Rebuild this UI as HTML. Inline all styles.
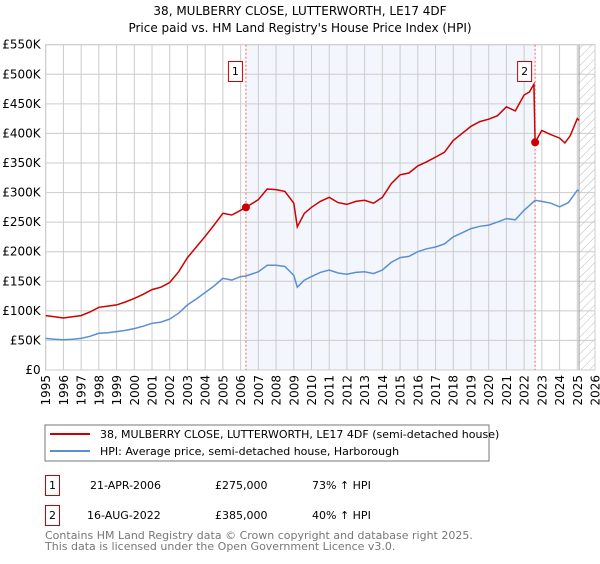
<!DOCTYPE html>
<html><head><meta charset="utf-8"><style>
body{margin:0;background:#fff;font-family:"DejaVu Sans","Liberation Sans",sans-serif;}
svg text{font-family:"DejaVu Sans","Liberation Sans",sans-serif;}
</style></head><body>
<svg id="chart" width="600" height="560" xmlns="http://www.w3.org/2000/svg">
<defs><pattern id="hatch" width="6" height="6" patternUnits="userSpaceOnUse" patternTransform="rotate(45)"><line x1="0" y1="0" x2="0" y2="6" stroke="#bbb" stroke-width="1"/></pattern></defs>
<text x="300" y="15" text-anchor="middle" font-size="12">38, MULBERRY CLOSE, LUTTERWORTH, LE17 4DF</text>
<text x="300" y="32" text-anchor="middle" font-size="12">Price paid vs. HM Land Registry's House Price Index (HPI)</text>
<g id="plot"></g>
<rect x="45" y="425" width="444" height="36" fill="#fff" stroke="#777"/>
<line x1="50" y1="434" x2="90" y2="434" stroke="#cc0000" stroke-width="2"/>
<text x="100" y="438" font-size="11">38, MULBERRY CLOSE, LUTTERWORTH, LE17 4DF (semi-detached house)</text>
<line x1="50" y1="451" x2="90" y2="451" stroke="#5b8fd4" stroke-width="2"/>
<text x="100" y="455" font-size="11">HPI: Average price, semi-detached house, Harborough</text>
<rect x="45.5" y="475.5" width="14" height="20" fill="none" stroke="#cc0000"/>
<text x="52.5" y="489" font-size="11" text-anchor="middle">1</text>
<text x="90" y="489" font-size="11">21-APR-2006</text>
<text x="215" y="489" font-size="11">£275,000</text>
<text x="312" y="489" font-size="11">73% ↑ HPI</text>
<rect x="45.5" y="505.5" width="14" height="20" fill="none" stroke="#cc0000"/>
<text x="52.5" y="519" font-size="11" text-anchor="middle">2</text>
<text x="87" y="519" font-size="11">16-AUG-2022</text>
<text x="215" y="519" font-size="11">£385,000</text>
<text x="312" y="519" font-size="11">40% ↑ HPI</text>
<text x="45" y="539" font-size="11" fill="#777">Contains HM Land Registry data © Crown copyright and database right 2025.</text>
<text x="45" y="550" font-size="11" fill="#777">This data is licensed under the Open Government Licence v3.0.</text>
</svg>
<script>
const hpiYears=[1995,1995.5,1996,1996.5,1997,1997.5,1998,1998.5,1999,1999.5,2000,2000.5,2001,2001.5,2002,2002.5,2003,2003.5,2004,2004.5,2005,2005.5,2006,2006.3,2007,2007.5,2008,2008.5,2009,2009.2,2009.6,2010,2010.5,2011,2011.5,2012,2012.5,2013,2013.5,2014,2014.5,2015,2015.5,2016,2016.5,2017,2017.5,2018,2018.5,2019,2019.5,2020,2020.5,2021,2021.5,2022,2022.3,2022.62,2023,2023.5,2024,2024.5,2025,2025.1];
const hpiValues=[53.5,52,51,52,53.5,57,62,63,65,67,70,74,79,81,86,96,110,120,131,142,155,152,158,159,166,177,177,175,160,140,152,158,165,169,164,162,165,166,163,169,182,190,192,200,205,208,213,225,232,239,243,245,250,256,254,270,278,287,285,282,276,283,304,303];
const redYears=[1995,1995.5,1996,1996.5,1997,1997.5,1998,1998.5,1999,1999.5,2000,2000.5,2001,2001.5,2002,2002.5,2003,2003.5,2004,2004.5,2005,2005.5,2006,2006.3,2007,2007.5,2008,2008.5,2009,2009.2,2009.6,2010,2010.5,2011,2011.5,2012,2012.5,2013,2013.5,2014,2014.5,2015,2015.5,2016,2016.5,2017,2017.5,2018,2018.5,2019,2019.5,2020,2020.5,2021,2021.5,2022,2022.3,2022.55,2022.62,2023,2023.5,2024,2024.3,2024.6,2025,2025.1];
const redValues=[92,90,88,90,92,98,106,108,110,115,121,128,136,140,148,166,190,208,226,245,265,262,270,275,288,306,305,302,282,242,265,275,285,292,283,280,285,287,282,292,315,330,333,345,352,360,368,388,400,412,420,424,430,445,438,465,470,483,385,405,398,392,384,396,425,422];
const sales=[{n:"1",year:2006.3,value:275},{n:"2",year:2022.62,value:385}];
const yTicks=[0,50,100,150,200,250,300,350,400,450,500,550];
const xTicks=[1995,1996,1997,1998,1999,2000,2001,2002,2003,2004,2005,2006,2007,2008,2009,2010,2011,2012,2013,2014,2015,2016,2017,2018,2019,2020,2021,2022,2023,2024,2025,2026];
const X0=45.7,X1=595,Y0=370,Y1=44.7;
function xs(y){return X0+(y-1995)/(2026-1995)*(X1-X0);}
function ys(v){return Y0-v/550*(Y0-Y1);}
const NS="http://www.w3.org/2000/svg";
const g=document.getElementById('plot');
function mk(t,a){const e=document.createElementNS(NS,t);for(const k in a)e.setAttribute(k,a[k]);g.appendChild(e);return e;}
let e=mk('rect',{x:xs(sales[0].year),y:Y1,width:xs(sales[1].year)-xs(sales[0].year),height:Y0-Y1,fill:'#eef2fc',opacity:0.7});


e=mk('rect',{x:xs(2025.1),y:Y1,width:X1-xs(2025.1),height:Y0-Y1,fill:'url(#hatch)'});


xTicks.forEach(t=>{
 let l=mk('line',{x1:xs(t),x2:xs(t),y1:Y1,y2:Y0,stroke:'#ccc'});
 
 
 let tx=mk('text',{x:0,y:0,'font-size':12,'text-anchor':'end',transform:'translate('+(xs(t)+4.5)+','+(Y0+5)+') rotate(-90)'});tx.textContent=t;
 
 
});
yTicks.forEach(t=>{
 let l=mk('line',{x1:X0,x2:X1,y1:ys(t),y2:ys(t),stroke:'#ccc'});
 
 
 let tx=mk('text',{x:X0-5,y:ys(t)+4,'font-size':12,'text-anchor':'end'});tx.textContent=t===0?'£0':'£'+t+'K';
 
 
});
e=mk('line',{x1:xs(2025.1),x2:xs(2025.1),y1:Y1,y2:Y0,stroke:'#999'});


e=mk('rect',{x:X0,y:Y1,width:X1-X0,height:Y0-Y1,fill:'none',stroke:'#ccc'});


sales.forEach(s=>{
 let l=mk('line',{x1:xs(s.year),x2:xs(s.year),y1:Y1,y2:Y0,stroke:'#e66','stroke-dasharray':'2,2'});
 
 
});
function path(xa,va){return xa.map((y,i)=>(i?'L':'M')+xs(y).toFixed(1)+','+ys(va[i]).toFixed(1)).join('');}
e=mk('path',{d:path(hpiYears,hpiValues),fill:'none',stroke:'#5b8fd4','stroke-width':1.5});


e=mk('path',{d:path(redYears,redValues),fill:'none',stroke:'#cc0000','stroke-width':1.5});


sales.forEach(s=>{
 let c=mk('circle',{cx:xs(s.year),cy:ys(s.value),r:4,fill:'#cc0000'});
 
 
 let r=mk('rect',{x:xs(s.year)-17.5,y:61.5,width:14,height:20,fill:'#fff',stroke:'#cc0000'});
 
 
 let t=mk('text',{x:xs(s.year)-10.5,y:75,'font-size':11,'text-anchor':'middle'});t.textContent=s.n;
 
 
});
</script>
</body></html>
